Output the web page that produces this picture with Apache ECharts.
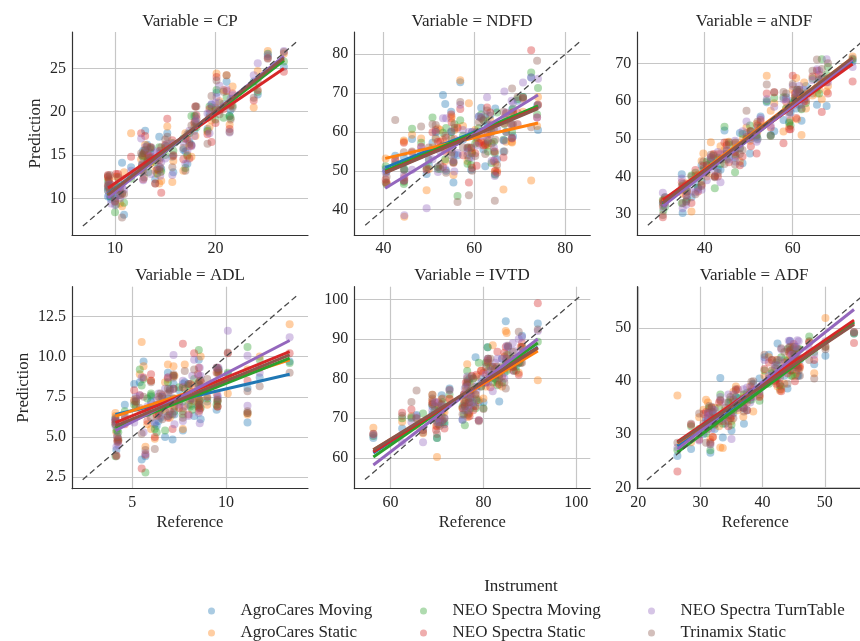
<!DOCTYPE html>
<html><head><meta charset="utf-8">
<style>html,body{margin:0;padding:0;background:#fff}#c{width:860px;height:641px}</style>
<script src="https://cdn.jsdelivr.net/npm/echarts@6/dist/echarts.min.js"></script>
</head><body><div id="c"></div>
<script>
const instruments = ['AgroCares Moving','AgroCares Static','NEO Spectra Moving','NEO Spectra Static','NEO Spectra TurnTable','Trinamix Static'];
const palette = ['#1f77b4','#ff7f0e','#2ca02c','#d62728','#9467bd','#8c564b'];

const refCP = [9.3,9.4,9.6,10,10.3,10.7,10.9,11.6,12.6,12.8,13,13.3,13.6,14,14.4,14.6,15.2,15.7,16.8,17.2,17.6,18,19.2,19.6,20.1,20.4,21.1,21.4,21.7,23.8,24.2,25.2,26.8, 9.3,9.5,10.1,10.5,12.7,12.9,13.2,13.5,14.2,14.5,15,15.8,17,17.4,17.9,18.1,19.4,20,20.8,21.5];
const cpAgroMoving = [10.2,11.5,9.9,10,10.4,14.1,8.1,13.6,13,15.5,17.8,14.2,15.8,12.2,17.1,13.4,17.5,14.8,15.6,14,16.2,19.5,18,20.8,22.2,21,23.5,19.5,21.5,23.5,22,26.4,25.2, 11.2,10.2,11,11.6,14.9,13.8,16.2,15.3,13.4,15.2,16,13,15.4,16.5,17.8,18.5,19.8,20.4,20.9,20.2];
const cpAgroStatic = [12.4,12.1,10.8,11,12.5,9.1,13,17.5,14.5,15,16.2,14.8,14.1,13.2,11.7,12,18.3,11.9,13.2,15,14.8,17.2,17.7,19,24.4,21.2,24.2,18.5,22.9,20.5,24.7,27,26.7, 11.5,10.8,12.5,9.4,13.2,14.9,15.3,14,12.8,13,15.8,14.3,17.5,16,18.6,19.2,18.2,20.5,22.5,20.8];
const cpNeoMoving = [10.9,11.2,10.2,8.4,11.4,10.6,9.5,12.3,13.5,14.8,15.5,13,14.6,14.2,15.9,13.1,16,16.4,16.9,14.9,19.5,18.9,17.8,20.5,22.5,20.2,21.7,19.5,20.7,22.8,22.3,26.7,25.8, 12,11.1,9.3,10.9,13.9,15.2,14.3,15.7,12.9,14.7,15,15.5,13.5,17.5,19.5,18.2,20.6,19.1,19.3,19.3];
const cpNeoStatic = [12.7,12.2,11.6,9.7,12.8,10.5,12.2,14.8,17.5,12.2,17.2,15,14.8,11.7,14.4,10.65,19.2,16.7,14.5,16.8,16.1,20.6,17.4,16.5,24,20.1,22.4,18,22.1,21.3,22.5,26.2,24.6, 12.5,11,12.8,11.2,13.8,15.2,14.2,15.9,13.3,15.5,16.2,14.9,16.9,14.6,18.8,19.6,20.3,18.7,20.3,20.7];
const cpNeoTurn = [11.6,10.4,9.4,9.2,10.9,11.2,11,13.2,16.9,12.1,15.9,13.9,12.8,15.2,13.6,14.2,16.3,12.7,16.5,15.5,16,18.9,19.8,20.9,21.7,23,22.6,17.6,21.9,24.2,25.6,26.6,27, 10.9,11.6,10.2,10,14,13,15.5,14.9,15.4,12.6,14.6,16.3,14,17.8,17.2,19.2,17.5,21,20.6,21.5];
const cpTrinamix = [12.6,11.8,10.5,9.6,12.4,7.8,10.5,12.6,15.2,13.2,15.6,14.4,15.9,11.7,13.3,15.9,17.1,13.6,15.8,17.4,18.4,20.6,16.3,21.8,23.6,19.7,24.2,17.7,20.5,21.6,23.5,26.1,26.9, 11.4,12.7,11.3,10.4,15,12.4,16,14.7,14.4,13.6,16.8,15,13.2,16.3,18.2,20.6,19.4,20.2,22.3,19.1];

const refNDFD = [40.5,40.7,42.6,44.5,44.6,46.3,48.3,49.5,50.8,52,53.1,53.6,54.9,55.4,56.3,56.9,58.8,59.3,60.5,61.5,62.4,62.8,63.5,64.5,64.6,66.4,66.6,68.3,68.5,70.7,72.5,73.8,74, 44.5,50,51.5,52.5,53.8,55,55.6,57.5,58.5,59.5,60.2,61,62,63,63.8,64.3,65,67,68.2,69.5];
const ndfdAgroMoving = [50.5,49.8,53.9,52,50.3,58.2,55,49.2,57.2,51,69.5,67.2,65.2,47,54,72.8,53.2,50.3,58.6,66.2,51.2,62,64.2,49.2,66,55,57.8,65.8,58.8,69,74,66.8,60.5, 53.5,51.5,58.5,56,50,60,54.2,58,55.8,60,59,64,55.5,62,57,60.5,53,60,62,68];
const ndfdAgroStatic = [53.2,47,52.6,57.5,38.2,59.3,58.3,45,56,60.9,58,52.5,63.5,48.9,61.2,73.3,67.4,54.6,57.5,60,56.5,58.1,63,49.8,52,45.2,63.6,57.3,65,65.2,47.5,61.5,69, 57.8,50.5,58.2,60.5,55.5,64,60.5,61.5,52.5,55,60.5,57,57.2,56.5,57,61,50,57.5,57.5,62];
const ndfdNeoMoving = [51.2,46.5,51.7,46.6,50.4,60.8,57.2,51,63.7,50.5,59.8,53,60,52.2,43.5,63,56,51.5,59.2,64.5,63.8,57,61.3,54.5,49,58,62,60,66,69,75.3,64.5,71.3, 47.2,52.8,60,50.5,61,58.2,62,59,51.8,54.5,57,61,63,55,52,57.5,65,63,64,68.5];
const ndfdNeoStatic = [47.8,46.8,53,57.2,48.3,54.7,56.2,50.2,59.9,57.5,51,55,64.5,52,61,65.9,47,55.9,51.3,57.5,56.8,66.3,65,55,50,53.4,62.2,58.3,65,68.8,81,63.7,67, 47.5,55,60.5,57.5,58.5,62.5,58.2,54,56,50.8,54.5,57.2,56.5,59.5,61.5,52.5,49.5,64.8,61.8,65];
const ndfdNeoTurn = [49.5,50,52,48.8,38.6,50.3,56,40.4,53,49.7,63.5,50.5,60.2,52.7,54.6,67,60,53.4,56.5,63.8,64.5,68.9,62,48.7,53,57.8,70.4,58.5,67.5,72.7,74,63.7,73.7, 47.5,53,60,55,63.5,55.5,49.8,60.5,55,60,59.8,64,59,58,52.5,56,60.8,65,68,62];
const ndfdTrinamix = [47,48.5,63.1,54.8,47.5,55,61.4,50.6,62,51,56.5,59,54,52.3,42,67.7,43.7,56,60,63.5,54.3,65.5,59.5,42.3,58,65.2,55,71.2,62,68.5,61.2,78.3,67, 50.2,56,61.8,51.5,49.5,54.8,61,56,54,50,53.8,62.5,63,57.5,60,55,51.5,60,58.5,69];

const refANDF = [30.5,30.6,34.8,35,35.8,37,37.9,39.3,39.7,41.4,42.3,43.6,44.5,45.5,46.9,48.6,49.5,50.3,51.8,52.7,54.1,55,55.8,57.9,59.2,60,60.8,62,62.6,65.5,66.6,67.7,73.6, 31,36,38.5,40.5,42,43,45,47,48,50.5,52,58.5,59.5,60.5,61,61.5,63,64.5,66,68];
const andfAgroMoving = [33,32.5,40.6,30.3,33.5,34.5,38,43,41.5,44.5,40,41.8,52.2,45,47,43.5,51.5,46.1,50.5,55.9,59.7,51,52,55,54.5,60,58,54.8,60.5,59,66,58.7,70.5, 34.5,37,37,43,44.8,42,46,45,51.5,50,53,61,57,60,62.5,59,64,62,65.5,66];
const andfAgroStatic = [32.2,33.5,36.5,35.5,38.2,30.7,40.2,44.1,46.1,49.1,40.2,48,47,49.2,48.5,49.8,53,49.5,54,54.5,66.7,57.4,59.4,51.9,53.2,63,66.1,51,64.9,62,60.5,62.5,71.8, 34,36,40.5,40,45.8,46,49,48.8,44,50.5,52,58,55,61,55.2,62,58,61.5,63,64];
const andfNeoMoving = [33.8,31,32.9,38,36,40.3,41,38.8,42,44,36.9,43.3,53.2,48.5,41.1,51.3,50,53.5,50.8,53,60,50.8,60.9,61,54.2,59.5,61,57.8,62,63.5,71.1,67,71, 32,34,37,44,42.8,45,44.5,46,47.5,52,50,58,53.5,60,63,63,59.5,66,62,69];
const andfNeoStatic = [29.2,33.6,38.5,37.2,35,33,41.7,37.8,42.8,45,40,46,49,43.8,46.5,45.3,50.5,52,46.1,55,62,53,62.3,48.8,52.5,66.7,55.5,61,60,68,57.1,65,65.2, 33.2,38,36,43,46,40,48.3,45.5,43,48,53.5,59.8,52.5,62,60.5,63,60,66.5,67,62];
const andfNeoTurn = [35.7,31.8,39.5,31.6,32.5,36,35.8,36.5,40.8,45.2,41.5,38.5,46,44.5,49.5,52,54.6,50,49.2,55.5,60.5,53.5,58.5,60.5,56.5,64,62,59,63,68.4,65,71.1,69, 32.8,35,36.5,39,43,46.5,47,44,47.5,51,49.8,60.5,58,59,62.2,64,61,65.5,68,65];
const andfTrinamix = [29.8,33,37.5,33,33.3,40,35.3,37.5,44,45.8,39.8,44.5,43.3,49,43.2,47,57.4,50.5,51,53,64.4,50.8,62.3,62.4,57,64.5,60.5,58,61.5,71,68.5,66,71.3, 34.5,36,40,41,45.5,41,46.8,49,46,52,54.5,62,58.8,61,63,62.3,62,68,66,70];

const refADL = [4.1,4.15,4.25,4.6,5.1,5.4,5.5,5.6,5.7,6,6.2,6.4,6.75,6.9,7,7.15,7.2,7.7,7.8,8.1,8.3,8.55,8.6,8.65,9,9.5,9.55,10.1,11.15,11.15,11.8,13.4, 5.2,5.8,6,6.3,6.5,6.6,6.9,7.2,7.25,7.5,7.7,8,8.2,8.5,8.55,8.6,4.1,4.2,9.55,9.6];
const adlAgroMoving = [6.2,4.2,4.8,7,8.3,8.4,3.6,9.7,3.8,7.5,5.8,6,5,7.4,8,4.85,8.3,5.4,8.4,7,6.3,9.8,8,6.1,7.2,6.7,7.4,8.9,5.9,8.05,8.7,9.7, 7,6.5,7.2,5.7,6.2,7.5,9,8,6.4,7.9,8.3,8.3,7.3,6.9,7.4,7.9,6.1,5,6.9,9.2];
const adlAgroStatic = [6.5,5.3,4.8,6.1,7.3,8.9,10.9,9.4,4.4,5.5,4.9,7,8.4,9.5,6.2,7.1,9.4,5.5,9.5,7.8,7.2,6.8,7.3,10,7,7.7,6.9,7.7,6.4,9.2,10,12, 6.8,5.8,8.5,6.3,7.4,6.7,8.6,6.8,8.8,7.4,6.8,7,8.2,7.5,6.6,8.5,6.3,5,7.3,9];
const adlNeoMoving = [3.8,5.4,5.3,6.6,7,9.2,8.2,8.6,2.8,7.6,5.5,6.5,5.4,8.4,6.4,7.2,8.8,6.4,8,6.9,8.6,10.4,7.2,6.8,7.4,7,9,9,10.6,6.5,9.8,9.6, 7.2,7.4,7.7,5.3,6.7,7.4,6.3,7.4,6.6,8.1,7.2,8.2,6.7,7,8.3,7.8,5.8,5.4,7.2,9.2];
const adlNeoStatic = [6,3.85,4.7,5.8,7.9,7.6,3.05,8.7,3.9,8.9,5,6.5,7.1,8.7,6.6,5.5,8,10.8,7.5,8.3,10.2,9.3,6.8,8.4,7.5,9,9.3,10.2,8.5,6.5,9.3,10.2, 7.2,6,8.5,6.4,6.9,7.6,6.2,8.8,7.4,6.8,8.1,6.4,7.8,8.9,7.1,6.7,5.9,4.8,6.9,9.1];
const adlNeoTurn = [5.7,4.4,4.5,6.2,5.9,7.6,8.7,5.3,4,7,5.9,7.7,8,6.3,7.8,6.5,10.1,6,6.9,7.4,9.8,8.8,5.85,8.8,7.9,9.3,7.6,11.6,10.05,6.95,9,11.2, 7.5,6.9,6.8,7.3,6.3,7.5,8.7,7.3,5.8,7,8.5,6.3,8.8,8,6.5,9.3,6,5.1,7.5,9.3];
const adlTrinamix = [5.8,3.8,4.9,6.3,7.2,6.8,5.2,7.5,4.2,8.4,4.25,7.5,6.6,8,7.9,6.4,8.9,6.2,9.1,7.3,9.2,8.4,7,8.5,8.6,9.3,7.3,10.25,7.85,6.6,8.15,9, 7.4,6.5,6.2,7,7.7,6.1,7.7,8.7,6.9,7.2,6.6,8.3,7.4,8.3,6.9,7.3,6.1,4.7,7.2,9];

const refIVTD = [56.3,62.5,64.5,65.6,67,69,69.8,70,70.6,71,71.6,72.7,75.5,76,76.5,76.8,77,77.5,78.3,79,80,80.9,81.5,82,83,83.4,84.8,85,86.3,87.6,88.3,91.7, 69.5,70.3,71.2,75.8,76.2,76.6,77.2,77.8,78.5,79.5,80.5,81,82.5,84,84.5,85.3,86.5,87,88,69];
const ivtdAgroMoving = [65,67.4,70.3,70.8,67,73,70,65,69,75.8,68.5,77.5,69.6,73,78.5,71.5,80,77,85.4,74,74,87.9,80.5,83,79.5,74.2,94.5,84,84,84,90.8,93.9, 70.5,73,69,76,72,79,75,73,78,80,79,82,80,85,81.5,88,82,83,84,71];
const ivtdAgroStatic = [67.6,69.1,70.5,68,66.2,75.9,68,60.2,73.5,74.8,71.5,74.8,72.5,76,83.6,71,71.3,78,76,74.5,75,82,80,88.4,79,81,92,91.5,83,81.5,88,79.6, 71,72.5,71.5,74.5,77,70.3,76,77,80.5,82,78,84,83,78,85.5,82.5,84,85,84,74.5];
const ivtdNeoMoving = [65.5,70,70,70,71.2,73.5,69.5,65,72,70.5,69,76,73,68.2,81.9,76.5,79,74,72.5,84,72.5,87.9,83,79,78.3,81,84.5,82,85,84,88,89.3, 72,68.5,74,71,74.5,79.5,72.5,80,74.5,78,84,85,80,79,83,86,83,82,85,70];
const ivtdNeoStatic = [66,71.4,72.2,70,67,74,67,68,70,72,67.4,75,72.6,74,79,74,70.5,80.7,73,69.5,81.5,84.5,77.8,83,86.8,78.5,88,85,83,81,89,99, 70,74,69.5,76,79,73,76,72,81,82,79,85,81,80.5,86.5,84,82,85,88,73.5];
const ivtdNeoTurn = [65.7,63.9,69,70.5,63.9,70.5,74,69,69,73,70,77,69.6,77.5,80.5,72,76,75.5,78,69.5,79,85,82,76.8,85,82,85,88.3,88.9,90,90.5,92, 74,71,73,72,76,78,73.5,74,77,79,81,79,84,85,80,88,87,85,87,72];
const ivtdTrinamix = [66.1,70.6,74.1,77,66.4,75.9,71,66,68,73.5,70,77.2,71,73,80,75,74,80.5,76,69.2,72.3,84,85,81,83,80,77.5,86,86.8,91.8,84,92.4, 73,71.5,75,73.5,78,71,77,80,75,78,83,80,82.5,83,79,88.3,85,84,85.5,75];

const refADF = [26.3,28.5,29.8,30.9,31.4,31.6,32,33.2,33.6,34.5,35,35.7,36.9,37,38.2,39.5,40.3,41,42,42.4,42.8,43,44,44.4,44.8,45.2,45.6,46,47.5,48.3,50.1,54.7, 30.5,31.2,31.8,32.3,33,34,34.8,35.3,36,37.5,38,38.5,41.5,42.2,43.5,44.2,44.6,45,45.4,45.8];
const adfAgroMoving = [25.9,27.2,30,33,31.5,26.5,34,40.6,29.4,33.5,30.7,37,35,32,38,40.5,44.5,45,40,47.1,38.5,39,38.6,47.5,42,44,41,44,47.5,43.2,44.8,49, 30,32.5,34.3,31,33,32,36,34,36.8,34.5,37,39.5,42,40.5,41,44,46,45.5,43,41];
const adfAgroStatic = [37.3,28.5,33.2,36.5,34.7,29,29.5,27.5,27.4,36,32.5,39,33.3,37.5,38.5,37.2,41,44.5,40,39,38.2,38.5,44,45,46.5,41,43,42.5,47.5,41.5,51.9,49.2, 34.6,36,33,35,31.5,34.5,33,38,34.5,36,39,34.3,42,44,39.5,42.5,44,46.5,41.5,42.8];
const adfNeoMoving = [27,31.5,31,30.2,35,27,32,37.5,32,36,31.8,37,37.5,35,36.5,36.3,42,39.5,41,43,39.2,44.5,46,42,41,46.5,44.5,46,48.4,45.5,46.5,49, 31,34,33,31.8,35,33.5,36.5,34.5,36,37.8,36.5,38,41.5,43.5,44,43,41,46,45.7,46];
const adfNeoStatic = [23,31.8,29,34.2,34,28.5,29.5,36.3,32.5,31.5,33.5,38.3,35,36,37,37,42.3,43.5,40.2,40.5,39.5,38.1,41.5,45.8,44,40,46,42.8,47.3,44,46.5,47.2, 33.8,33,35,32,36,34,33,36.5,38.5,34.5,37.5,38.5,44,39.5,43.5,45.5,42,47,43,42.5];
const adfNeoTurn = [27.5,29.5,28.8,32.5,33.5,28,34.6,37,33,37.5,29.1,36,38.5,35,39,38,44,41,43,41,44,46,43,47.6,45,46.5,47.7,44.5,46,45,47.5,49.2, 30.5,34,31,34.5,33,36,34,37.5,35,38.8,36,37,41,43,42,47.6,45,43.5,46.5,47.5];
const adfTrinamix = [28.4,32,33.9,28.4,35.3,28.2,34.2,36.5,33.8,32.5,34.5,38.5,36.8,34.3,39.9,37.5,45,40.5,42.5,44,40.7,46.2,39.5,46.5,43,45,42.5,41,44,40.5,46,49.2, 32,31,35.2,33,32.5,35,37,33,35,36.5,38,40,44,41,45.5,46.3,43.5,45,44.5,42];

const fitRangeCP = [9.3,26.8];   const fitStartCP = [10.5,10.4,10.3,11.2,10.1,10.4];   const fitEndCP = [26,26,25.9,25,26.4,26.2];
const fitRangeNDFD = [40.4,74];  const fitStartNDFD = [50.8,53.2,50,49.6,45.5,49.5];   const fitEndNDFD = [66.5,62.3,66.7,66.2,69.5,66];
const fitRangeANDF = [30.5,73.6];const fitStartANDF = [33,33.5,32.5,33.8,32.2,33];     const fitEndANDF = [70.5,71.5,71,69.8,71,71.5];
const fitRangeADL = [4.1,13.4];  const fitStartADL = [6.4,6.3,5.6,5.9,5.4,5.7];        const fitEndADL = [8.9,9.8,9.9,10.3,11,10.1];
const fitRangeIVTD = [56.3,91.7];const fitStartIVTD = [61.2,62,60.2,61.5,58.2,62];     const fitEndIVTD = [88,87,89,87.8,90,87.7];
const fitRangeADF = [26.3,54.7]; const fitStartADF = [27.8,28.3,26.6,28.6,27.2,28.4];  const fitEndADF = [51,50.8,51.2,51.5,53.5,50.7];

const diagCP = [6.8,28.1], diagNDFD = [36,83.1], diagANDF = [27.1,75.6], diagADL = [2.35,13.8], diagIVTD = [54.5,100.9], diagADF = [21.4,56];

const panels = [
 {name:'CP', ref:refCP, preds:[cpAgroMoving,cpAgroStatic,cpNeoMoving,cpNeoStatic,cpNeoTurn,cpTrinamix], fr:fitRangeCP, fs:fitStartCP, fe:fitEndCP, diag:diagCP,
  box:[72,32,236,203], x:[5.72,29.2,[10,20]], y:[5.77,29.2,[10,15,20,25]], yName:28, cx:190, ty:13},
 {name:'NDFD', ref:refNDFD, preds:[ndfdAgroMoving,ndfdAgroStatic,ndfdNeoMoving,ndfdNeoStatic,ndfdNeoTurn,ndfdTrinamix], fr:fitRangeNDFD, fs:fitStartNDFD, fe:fitEndNDFD, diag:diagNDFD,
  box:[354.3,32,236,203], x:[33.6,85.5,[40,60,80]], y:[33.5,85.7,[40,50,60,70,80]], cx:472, ty:13},
 {name:'aNDF', ref:refANDF, preds:[andfAgroMoving,andfAgroStatic,andfNeoMoving,andfNeoStatic,andfNeoTurn,andfTrinamix], fr:fitRangeANDF, fs:fitStartANDF, fe:fitEndANDF, diag:diagANDF,
  box:[637.3,32,236,203], x:[24.7,78.3,[40,60]], y:[24.5,78.3,[30,40,50,60,70]], cx:754, ty:13},
 {name:'ADL', ref:refADL, preds:[adlAgroMoving,adlAgroStatic,adlNeoMoving,adlNeoStatic,adlNeoTurn,adlTrinamix], fr:fitRangeADL, fs:fitStartADL, fe:fitEndADL, diag:diagADL,
  box:[72,286.7,236,202], x:[1.78,14.38,[5,10]], y:[1.79,14.34,[2.5,5,7.5,10,12.5]], yName:40, cx:190, ty:267, xName:true, fmt:1},
 {name:'IVTD', ref:refIVTD, preds:[ivtdAgroMoving,ivtdAgroStatic,ivtdNeoMoving,ivtdNeoStatic,ivtdNeoTurn,ivtdTrinamix], fr:fitRangeIVTD, fs:fitStartIVTD, fe:fitEndIVTD, diag:diagIVTD,
  box:[354.3,286.7,236,202], x:[52.2,103,[60,80,100]], y:[52.2,103.2,[60,70,80,90,100]], cx:472, ty:267, xName:true},
 {name:'ADF', ref:refADF, preds:[adfAgroMoving,adfAgroStatic,adfNeoMoving,adfNeoStatic,adfNeoTurn,adfTrinamix], fr:fitRangeADF, fs:fitStartADF, fe:fitEndADF, diag:diagADF,
  box:[637.3,286.7,236,202], x:[19.85,57.8,[20,30,40,50]], y:[19.74,57.8,[20,30,40,50]], cx:754, ty:267, xName:true}
];

const FONT = '"Liberation Serif", serif', INK = '#262626';
const axisCommon = (spec, fmt) => ({
  type:'value', min:spec[0], max:spec[1], scale:true,
  axisLine:{show:true,onZero:false,lineStyle:{color:'#333',width:1.2}},
  axisTick:{show:false,customValues:spec[2]},
  axisLabel:{customValues:spec[2],color:INK,fontFamily:FONT,fontSize:16,margin:6,hideOverlap:false,
    formatter:fmt?(v=>Number(v).toFixed(1)):undefined},
  splitLine:{show:true,showMinLine:true,showMaxLine:true,lineStyle:{color:'#c6c6c6',width:1.2}}
});

const grid=[], xAxis=[], yAxis=[], series=[];
const title = [{text:'Instrument',left:521,top:578,padding:0,textAlign:'center',textStyle:{color:INK,fontFamily:FONT,fontSize:17,fontWeight:'normal'}}];
panels.forEach((p,i)=>{
  grid.push({left:p.box[0],top:p.box[1],width:p.box[2],height:p.box[3],containLabel:false,outerBoundsMode:'none'});
  const xa = axisCommon(p.x);
  if(p.xName) Object.assign(xa,{name:'Reference',nameLocation:'middle',nameGap:25,nameTextStyle:{color:INK,fontFamily:FONT,fontSize:16.5}});
  xa.gridIndex=i; xAxis.push(xa);
  const ya = axisCommon(p.y,p.fmt);
  if(p.yName) Object.assign(ya,{name:'Prediction',nameLocation:'middle',nameGap:p.yName,nameTextStyle:{color:INK,fontFamily:FONT,fontSize:17}});
  ya.gridIndex=i; yAxis.push(ya);
  title.push({text:'Variable = '+p.name,left:p.cx,top:p.ty,padding:0,textAlign:'center',textStyle:{color:INK,fontFamily:FONT,fontSize:17,fontWeight:'normal'}});
  instruments.forEach((n,k)=>{
    series.push({type:'scatter',name:n,xAxisIndex:i,yAxisIndex:i,z:2,symbol:'circle',symbolSize:8,silent:true,
      itemStyle:{color:palette[k],opacity:0.38,borderWidth:0},
      data:p.ref.map((x,j)=>[x,p.preds[k][j]])});
  });
  instruments.forEach((n,k)=>{
    series.push({type:'line',name:n+' fit',xAxisIndex:i,yAxisIndex:i,z:3,symbol:'none',silent:true,
      lineStyle:{color:palette[k],width:3},
      data:[[p.fr[0],p.fs[k]],[p.fr[1],p.fe[k]]]});
  });
  series.push({type:'line',name:'1:1',xAxisIndex:i,yAxisIndex:i,z:4,symbol:'none',silent:true,
    lineStyle:{color:'#4a4a4a',width:1.3,type:[6,3.5]},
    data:[[p.diag[0],p.diag[0]],[p.diag[1],p.diag[1]]]});
});

const legendLeft = [208,208,420,420,648,648];
const legendTop = [602,624,602,624,602,624];
const legend = instruments.map((n,k)=>({orient:'horizontal',left:legendLeft[k],top:legendTop[k],padding:0,itemWidth:48,itemHeight:7,itemGap:0,data:[n],selectedMode:false,
  textStyle:{color:INK,fontFamily:FONT,fontSize:17,lineHeight:18},icon:'circle'}));

echarts.init(document.getElementById('c'),null,{renderer:'canvas'}).setOption({
  animation:false, backgroundColor:'#fff', title, grid, xAxis, yAxis, series, legend
});
</script></body></html>
